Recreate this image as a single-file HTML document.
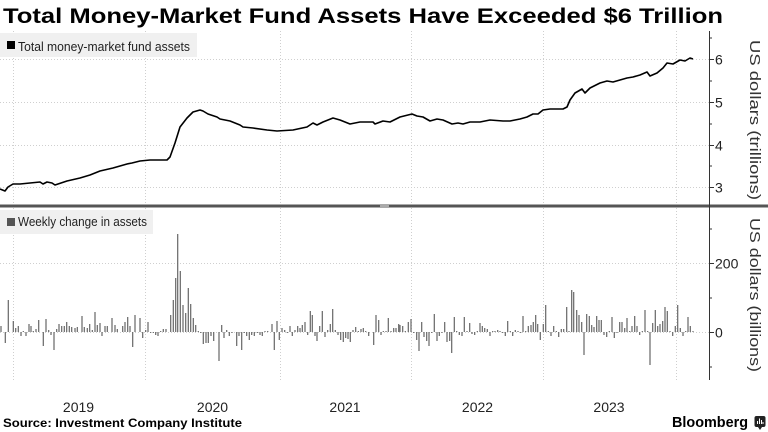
<!DOCTYPE html>
<html><head><meta charset="utf-8"><style>
html,body{margin:0;padding:0;background:#fff;width:768px;height:432px;overflow:hidden}
svg{display:block}
text{font-family:"Liberation Sans",sans-serif}
</style></head><body>
<svg width="768" height="432" viewBox="0 0 768 432" xmlns="http://www.w3.org/2000/svg">
<rect width="768" height="432" fill="#fff"/>
<text x="3" y="23" font-size="21" font-weight="bold" fill="#000" textLength="720" lengthAdjust="spacingAndGlyphs">Total Money-Market Fund Assets Have Exceeded $6 Trillion</text>

<!-- gridlines -->
<g stroke="#cfcfcf" stroke-width="1" stroke-dasharray="1,2" fill="none">
<path d="M13.5 31V204M145.5 31V204M280.5 31V204M411.5 31V204M543.5 31V204M676.5 31V204"/>
<path d="M13.5 208V380M145.5 208V380M280.5 208V380M411.5 208V380M543.5 208V380M676.5 208V380"/>
<path d="M0 59.5H709M0 102.5H709M0 145.5H709M0 187.5H709"/>
<path d="M0 263.5H709M0 332.5H709"/>
</g>

<!-- legends -->
<rect x="0" y="33" width="197" height="24" fill="#f0f0f0"/>
<rect x="7" y="41" width="8" height="8" fill="#000"/>
<text x="18" y="51" font-size="13" fill="#222" textLength="172" lengthAdjust="spacingAndGlyphs">Total money-market fund assets</text>

<rect x="0" y="210" width="153" height="24" fill="#f0f0f0"/>
<rect x="7" y="218" width="8" height="8" fill="#555"/>
<text x="18" y="226" font-size="13" fill="#222" textLength="129" lengthAdjust="spacingAndGlyphs">Weekly change in assets</text>

<!-- line -->
<polyline fill="none" stroke="#000" stroke-width="1.6" stroke-linejoin="round" points="0,189 5,191 8,187 13,184 20,184 30,183 40,182 43,184 47,182 52,183 55,185 67,181 80,178 90,175 100,171 113,168 127,164 132,163 140,161 150,160 167,160 170,157 175,143 180,127 187,118 193,112 200,110 203,111 208,114 217,117 220,119 230,121 240,125 243,127 253,128 267,130 277,131 293,130 307,127 313,123 317,125 323,122 333,118 340,120 350,124 360,122 373,122 375,124 383,121 390,122 400,117 412,114 417,116 423,117 430,121 437,119 443,120 452,124 458,123 463,124 470,122 480,122 490,120 503,121 510,121 520,119 527,117 533,114 538,114 543,110 550,109 563,109 567,107 570,100 575,93 582,89 585,93 590,88 600,83 607,81 613,82 620,80 627,78 633,77 640,75 647,72 650,76 657,73 663,68 667,63 673,64 680,60 685,61 690,58 693,59"/>

<!-- bars -->
<path fill="none" stroke="#666" stroke-width="1.2" d="M1 332V326M5.3 332V343M8.3 332V300M13.3 332V321M15.7 332V328M18.3 332V326M21 332V336M23.3 332V331M26 332V336M29 332V324M31 332V326M33.3 332V331M36 332V329M38.7 332V320M43.3 332V346M46 332V319M48.7 332V330M51 332V335M54 332V350M56.7 332V329M59 332V324M61.7 332V326M64.3 332V326M66.7 332V322M69.3 332V326M71.7 332V327M75 332V328M77.3 332V327M82 332V316M84.3 332V327M87.3 332V328M89.7 332V324M92.3 332V330M95 332V312M97.3 332V325M100 332V323M102 332V336M105 332V326M107.3 332V326M112 332V318M115 332V325M117.3 332V329M122.7 332V326M125 332V322M127.7 332V317M130 332V326M132.7 332V347M135 332V315M140 332V318M142.7 332V338M145.7 332V330M148 332V322M150.7 332V333M153.3 332V333M155.7 332V335M158 332V336M160.7 332V331M163.3 332V329M166 332V329M170.7 332V315M173.3 332V300M175.7 332V278M177.7 332V234M180.3 332V271M183 332V305M185.7 332V313M188.3 332V288M190.7 332V304M193.3 332V318M195.7 332V325M198.3 332V331M200.7 332V333M203.3 332V344M206 332V343M208.3 332V343M211 332V336M213.7 332V341M219 332V361M221.7 332V325M224 332V338M226.7 332V330M229.3 332V336M232 332V333M236.7 332V346M239 332V336M241.7 332V350M244.3 332V333M246.7 332V336M249.3 332V340M251.7 332V335M254.3 332V336M257.3 332V333M260 332V335M262.3 332V336M265 332V331M267.7 332V331M272 332V324M274.3 332V350M277 332V321M279.3 332V340M282 332V328M284.7 332V330M287.3 332V333M290 332V326M292.3 332V336M295 332V330M297.7 332V326M300 332V328M302.3 332V325M305 332V322M307.7 332V335M310.3 332V311M312.3 332V315M315 332V336M317 332V341M319.7 332V326M322.3 332V311M325 332V337M327.7 332V330M330.3 332V324M332.7 332V309M335.3 332V330M338 332V335M340.7 332V340M343.3 332V342M345.7 332V338M348 332V339M350.3 332V342M353 332V330M355.7 332V327M358.3 332V331M361 332V329M363.3 332V328M365.7 332V331M368.7 332V336M373.7 332V345M376 332V315M378.7 332V320M381 332V335M383.3 332V331M386 332V331M388.3 332V318M391 332V331M393.7 332V328M396 332V328M398.7 332V324M400 332V325M402.7 332V326M405.3 332V331M408.3 332V322M411 332V319M413.7 332V333M416.7 332V340M419 332V351M421.7 332V322M424 332V337M426.7 332V341M429 332V346M431.7 332V333M434.3 332V314M437 332V341M439.3 332V336M442 332V333M444.7 332V322M447 332V342M449.7 332V341M451.7 332V353M454.3 332V317M456.7 332V331M459.3 332V335M462 332V336M464.3 332V317M467 332V331M469.7 332V323M472 332V334M474.7 332V335M477.3 332V331M480 332V323M482.3 332V326M484.7 332V328M487.3 332V329M490 332V336M492.7 332V331M495 332V331M497.7 332V330M500 332V331M502.7 332V333M505.3 332V336M507.7 332V321M510.3 332V331M512.7 332V336M515.3 332V330M518 332V331M520.7 332V333M523 332V316M525.7 332V331M528.3 332V326M531 332V325M533.3 332V322M535.7 332V315M537.7 332V324M540.3 332V340M543.3 332V324M545.7 332V305M548.3 332V331M551 332V336M553.7 332V326M556.3 332V331M558.7 332V337M561.3 332V329M563.7 332V329M566.7 332V307M569 332V331M571.7 332V290M573.7 332V292M576.7 332V310M579 332V315M581.7 332V322M584 332V355M586.7 332V314M589.3 332V316M591.7 332V325M594 332V327M596.7 332V316M599 332V320M601.3 332V320M604 332V335M606.7 332V337M609.3 332V331M612 332V317M614.3 332V338M617 332V333M619.7 332V322M622 332V322M624.7 332V328M627 332V318M629.7 332V331M632 332V326M634.7 332V316M637 332V326M639.7 332V335M642.3 332V331M645 332V310M647.7 332V331M650 332V365M652.7 332V323M655.3 332V310M657.7 332V326M660 332V324M662.7 332V321M665 332V307M667.3 332V311M670 332V331M672.7 332V336M675.3 332V326M677.7 332V305M680.3 332V328M683 332V336M685.7 332V331M688 332V317M690.3 332V326M693 332V331"/>

<!-- separator -->
<rect x="0" y="204.5" width="768" height="3" fill="#555"/>
<rect x="380" y="205" width="9" height="2" fill="#aaa"/>

<!-- right axis -->
<g stroke="#333" stroke-width="1" fill="none">
<path d="M709.5 31V380"/>
<path d="M709 59.5H714M709 102.5H714M709 145.5H714M709 187.5H714M709 38H712M709 81H712M709 124H712M709 166H712"/>
<path d="M709 263.5H714M709 332.5H714M709 229H712M709 298H712M709 367H712"/>
</g>
<g font-size="14" fill="#222">
<text x="715" y="64.5">6</text>
<text x="715" y="107.5">5</text>
<text x="715" y="150.5">4</text>
<text x="715" y="192.5">3</text>
<text x="715" y="268.5">200</text>
<text x="715" y="337.5">0</text>
</g>
<text transform="translate(750,40) rotate(90)" font-size="15" fill="#333" textLength="160" lengthAdjust="spacingAndGlyphs">US dollars (trillions)</text>
<text transform="translate(750,218) rotate(90)" font-size="15" fill="#333" textLength="154" lengthAdjust="spacingAndGlyphs">US dollars (billions)</text>

<!-- x labels -->
<g font-size="14" fill="#222" text-anchor="middle">
<text x="78.5" y="412">2019</text>
<text x="212.5" y="412">2020</text>
<text x="345" y="412">2021</text>
<text x="477.5" y="412">2022</text>
<text x="609" y="412">2023</text>
</g>

<text x="3" y="427" font-size="12" font-weight="bold" fill="#000" textLength="239" lengthAdjust="spacingAndGlyphs">Source: Investment Company Institute</text>
<text x="672" y="427" font-size="15" font-weight="bold" fill="#000" textLength="76" lengthAdjust="spacingAndGlyphs">Bloomberg</text>
<rect x="754.5" y="416" width="11" height="11" rx="2" fill="#222"/>
<path d="M758 427l2 3 2-3z" fill="#222"/>
<path d="M757.5 424V421M759.5 424V418.5M761.5 424V420M763 424V422" stroke="#fff" stroke-width="1"/>
</svg>
</body></html>
